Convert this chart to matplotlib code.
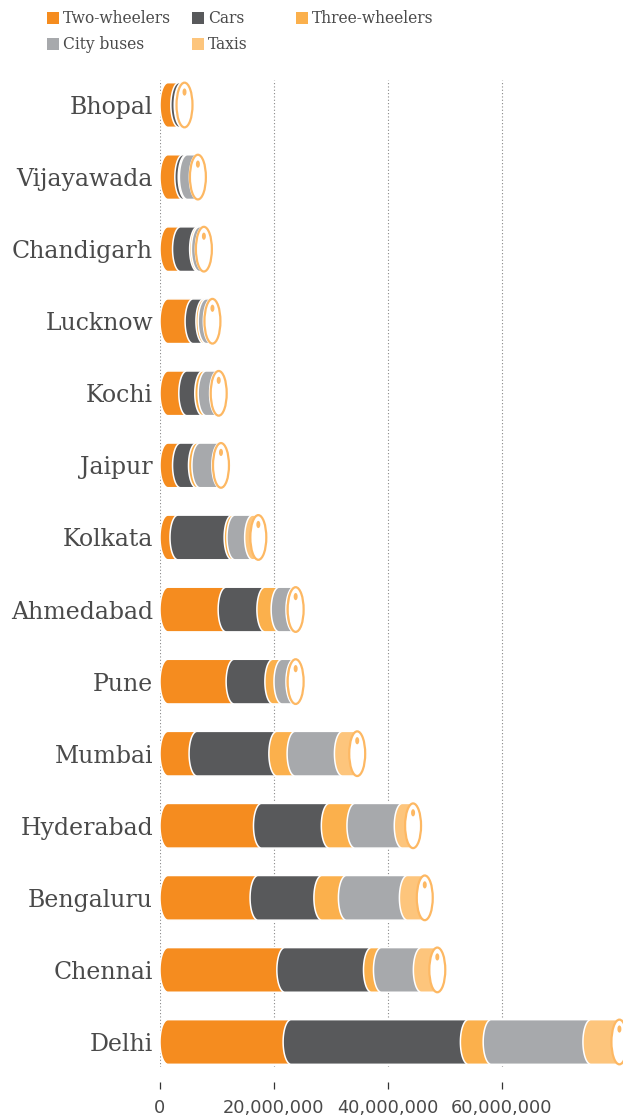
import matplotlib
matplotlib.use("Agg")
import matplotlib.pyplot as plt
import numpy as np
from matplotlib.path import Path
from matplotlib.patches import PathPatch, Ellipse, Rectangle
from matplotlib.ticker import FuncFormatter

# Vehicle counts (millions) per city, top row first
cities = ["Bhopal", "Vijayawada", "Chandigarh", "Lucknow", "Kochi", "Jaipur",
          "Kolkata", "Ahmedabad", "Pune", "Mumbai", "Hyderabad", "Bengaluru",
          "Chennai", "Delhi"]
two_wheelers = [1.9, 2.6, 2.2, 4.4, 3.3, 2.2, 1.75, 10.2, 11.6, 5.1, 16.4, 15.8, 20.5, 21.6]
cars = [0.6, 0.6, 3.0, 1.9, 2.8, 2.8, 9.5, 6.8, 6.8, 14.0, 11.9, 11.2, 15.2, 31.1]
three_wheelers = [0.15, 0.2, 0.3, 0.4, 0.6, 0.6, 0.5, 2.5, 1.6, 3.2, 4.5, 4.3, 1.75, 4.0]
city_buses = [0.15, 1.75, 0.7, 0.9, 2.0, 3.5, 3.1, 2.6, 2.1, 8.3, 8.3, 10.7, 7.0, 17.5]
taxis = [0.1, 0.1, 0.1, 0.2, 0.2, 0.2, 1.0, 0.3, 0.3, 2.6, 1.9, 3.05, 2.8, 5.0]

series_names = ["Two-wheelers", "Cars", "Three-wheelers", "City buses", "Taxis"]
series_colors = ["#F58C1F", "#58595B", "#FBB04C", "#A7A9AC", "#FDC57C"]
face_edge = "#FDB863"

series = [two_wheelers, cars, three_wheelers, city_buses, taxis]

W, H = 623, 1119
fig = plt.figure(figsize=(W / 100, H / 100), dpi=100)
ax = fig.add_axes([160 / W, 52 / H, 463 / W, 987 / H])

n = len(cities)
ys = np.arange(n)[::-1]  # Bhopal at top
rx = 1.4e6               # half-width of the elliptical ends (data units)
bh = 0.62                # bar height
hh = bh / 2


def segment_path(x0, x1, yc):
    """Cylinder body: convex-left elliptical left end, square right end."""
    t = np.linspace(np.pi / 2, 3 * np.pi / 2, 40)
    cx = x0 + rx
    left = np.column_stack([cx + rx * np.cos(t), yc + hh * np.sin(t)])
    verts = np.vstack([left, [[x1 + rx, yc - hh], [x1 + rx, yc + hh], left[0]]])
    codes = [Path.MOVETO] + [Path.LINETO] * (len(verts) - 2) + [Path.CLOSEPOLY]
    return Path(verts, codes)


for i, yc in enumerate(ys):
    start = 0.0
    z = 2
    for k, vals in enumerate(series):
        v = vals[i] * 1e6
        p = segment_path(start, start + v, yc)
        ax.add_patch(PathPatch(p, facecolor=series_colors[k], edgecolor="white",
                               lw=1.1, zorder=z))
        start += v
        z += 1
    # End face of the cylinder
    ax.add_patch(Ellipse((start + rx, yc), 2 * rx, bh, facecolor="white",
                         edgecolor=face_edge, lw=1.6, zorder=z))
    ax.add_patch(Ellipse((start + rx, yc + 0.18), 0.7e6, 0.1,
                         facecolor=face_edge, edgecolor="none", zorder=z + 1))

ax.set_xlim(0, 81.23e6)
ax.set_ylim(-0.347, n - 1 + 0.347)

font = "DejaVu Serif"
text_color = "#4a4a4a"

ax.set_yticks(ys)
ax.set_yticklabels(cities, fontsize=17, family=font, color=text_color)
ax.tick_params(axis="y", length=0, pad=5)

ax.set_xticks([0, 20e6, 40e6, 60e6])
ax.xaxis.set_major_formatter(FuncFormatter(lambda v, p: f"{int(v):,}"))
for lab in ax.get_xticklabels():
    lab.set_family(font)
ax.tick_params(axis="x", length=5, width=0.9, color="#333333", pad=7,
               labelsize=12.8, labelcolor=text_color)

for s in ax.spines.values():
    s.set_visible(False)
ax.spines["bottom"].set_position(("outward", 11))

ax.grid(axis="x", linestyle=(0, (1, 2)), color="#888888", lw=0.8, zorder=0)
ax.set_axisbelow(True)

# Legend drawn in figure pixels
legend_items = [
    (0, 47, 12), (1, 192, 12), (2, 296, 12),
    (3, 47, 38), (4, 192, 38),
]
for k, lx, ly in legend_items:
    fig.patches.append(Rectangle((lx / W, 1 - (ly + 12) / H), 12 / W, 12 / H,
                                 transform=fig.transFigure,
                                 facecolor=series_colors[k], edgecolor="none"))
    fig.text((lx + 16) / W, 1 - (ly + 6.5) / H, series_names[k], family=font,
             fontsize=11.2, color=text_color, va="center", ha="left")

fig.savefig("out.png", dpi=100)
